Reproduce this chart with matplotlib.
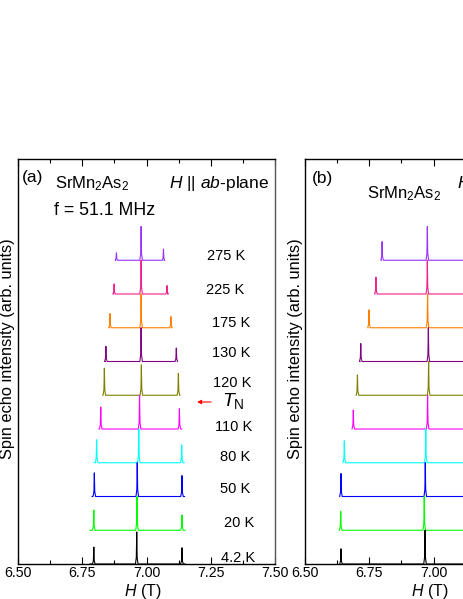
import matplotlib
matplotlib.use('Agg')
import matplotlib.pyplot as plt
import numpy as np

plt.rcParams['font.family'] = ['Liberation Sans', 'DejaVu Sans']
plt.rcParams['mathtext.fontset'] = 'custom'
plt.rcParams['mathtext.rm'] = 'Liberation Sans'
plt.rcParams['mathtext.it'] = 'Liberation Sans:italic'
plt.rcParams['mathtext.default'] = 'regular'

# temperatures, top to bottom
temps = ['275 K', '225 K', '175 K', '130 K', '120 K', '110 K', '80 K', '50 K', '20 K', '4.2 K']
offsets = [9, 8, 7, 6, 5, 4, 3, 2, 1, 0]
colors = ['#9933FF', '#F0208C', '#FF8000', '#800080', '#808000',
          '#FF00FF', '#00FFFF', '#0000FF', '#00FF00', '#000000']

# panel (a): H || ab-plane, peak fields (T) and heights (arb.)
left_a = [6.883, 6.874, 6.858, 6.842, 6.836, 6.822, 6.806, 6.797, 6.795, 6.795]
center_a = [6.979, 6.979, 6.979, 6.979, 6.980, 6.973, 6.970, 6.964, 6.963, 6.962]
right_a = [7.066, 7.080, 7.095, 7.116, 7.124, 7.128, 7.137, 7.138, 7.138, 7.138]
hl_a = [0.22, 0.30, 0.42, 0.45, 0.80, 0.65, 0.68, 0.70, 0.60, 0.50]
hc_a = [1.0, 1.0, 1.0, 1.0, 0.90, 1.0, 1.0, 1.0, 1.0, 0.95]
hr_a = [0.33, 0.25, 0.33, 0.40, 0.65, 0.60, 0.53, 0.62, 0.45, 0.48]
start_a = [6.880, 6.872, 6.856, 6.840, 6.830, 6.815, 6.797, 6.788, 6.780, 6.780]
end_a = [7.068, 7.082, 7.097, 7.120, 7.130, 7.137, 7.147, 7.148, 7.150, 7.150]

# panel (b): H || c-axis (right part is outside the picture)
left_b = [6.800, 6.776, 6.749, 6.717, 6.704, 6.688, 6.653, 6.640, 6.639, 6.640]
center_b = [6.976, 6.976, 6.977, 6.980, 6.981, 6.977, 6.970, 6.968, 6.964, 6.967]
hl_b = [0.55, 0.50, 0.53, 0.53, 0.60, 0.56, 0.65, 0.68, 0.56, 0.45]
hc_b = [1.0, 1.0, 1.0, 1.0, 1.0, 1.0, 1.0, 1.0, 1.0, 1.0]
start_b = [6.797, 6.772, 6.745, 6.714, 6.699, 6.683, 6.648, 6.635, 6.633, 6.635]
end_b = 7.30


def spectrum(start, end, peaks, heights, w=0.005):
    # narrow spike for each line, flat baseline elsewhere
    xs = [start]
    ys = [0.0]
    for p, h in zip(peaks, heights):
        xs += [p - w, p - w / 3, p, p + w / 3, p + w]
        ys += [0.0, 0.2 * h, h, 0.2 * h, 0.0]
    xs.append(end)
    ys.append(0.0)
    return np.array(xs), np.array(ys)


fig = plt.figure(figsize=(4.63, 5.99), dpi=100)
ax_a = fig.add_axes([18 / 463, 35 / 599, 257 / 463, 405 / 599])
ax_b = fig.add_axes([305 / 463, 35 / 599, 257 / 463, 405 / 599])

for i in range(len(temps)):
    x, y = spectrum(start_a[i], end_a[i], [left_a[i], center_a[i], right_a[i]],
                    [hl_a[i], hc_a[i], hr_a[i]])
    ax_a.plot(x, y + offsets[i], color=colors[i], lw=0.8)
    x, y = spectrum(start_b[i], end_b, [left_b[i], center_b[i]], [hl_b[i], hc_b[i]])
    ax_b.plot(x, y + offsets[i], color=colors[i], lw=0.8)

# temperature labels (left edge in T, vertical centre in offset units)
lab_x = [7.235, 7.232, 7.255, 7.255, 7.259, 7.267, 7.286, 7.286, 7.302, 7.290]
lab_y = [9.13, 8.12, 7.14, 6.25, 5.36, 4.06, 3.17, 2.22, 1.21, 0.18]
for t, lx, ly in zip(temps, lab_x, lab_y):
    ax_a.text(lx, ly, t, fontsize=10.5, ha='left', va='center')

ax_a.annotate('', xy=(7.186, 4.8), xytext=(7.262, 4.8),
              arrowprops=dict(arrowstyle='-|>', color='red', lw=0.8,
                              mutation_scale=6))
ax_a.text(7.292, 4.83, r'$\mathit{T}_{\mathrm{N}}$', fontsize=14, ha='left', va='center')

ax_a.text(0.015, 0.955, '(a)', transform=ax_a.transAxes, fontsize=12.5, va='center')
ax_a.text(0.145, 0.94, r'SrMn$_2$As$_2$', transform=ax_a.transAxes, fontsize=12, va='center')
ax_a.text(0.14, 0.873, 'f = 51.1 MHz', transform=ax_a.transAxes, fontsize=12.8, va='center')
ax_a.text(0.975, 0.94, r'$\mathit{H}$ || $\mathit{ab}$-plane', transform=ax_a.transAxes,
          fontsize=12.5, ha='right', va='center')

ax_b.text(0.025, 0.952, '(b)', transform=ax_b.transAxes, fontsize=12.5, va='center')
ax_b.text(0.24, 0.915, r'SrMn$_2$As$_2$', transform=ax_b.transAxes, fontsize=12, va='center')
ax_b.text(0.59, 0.94, r'$\mathit{H}$ || $\mathit{c}$-axis', transform=ax_b.transAxes,
          fontsize=12.5, ha='left', va='center')

for ax in (ax_a, ax_b):
    ax.set_xlim(6.5, 7.5)
    ax.set_ylim(0, 12)
    ax.set_yticks([])
    ax.set_xticks([6.5, 6.75, 7.0, 7.25, 7.5])
    ax.set_xticklabels(['6.50', '6.75', '7.00', '7.25', '7.50'])
    ax.set_xticks(np.arange(6.625, 7.5, 0.25), minor=True)
    ax.tick_params(axis='x', which='both', direction='in', top=True, labelsize=10.2, pad=1.5)
    ax.tick_params(axis='x', which='major', length=5, width=0.8)
    ax.tick_params(axis='x', which='minor', length=3, width=0.8)
    for s in ax.spines.values():
        s.set_linewidth(1.0)
    ax.set_xlabel(r'$\mathit{H}$ (T)', fontsize=11.5)
    ax.set_ylabel('Spin echo intensity (arb. units)', fontsize=11.8)

ax_a.spines['right'].set_color('#555555')
ax_a.xaxis.set_label_coords(0.485, -0.0435)
ax_b.xaxis.set_label_coords(0.485, -0.0435)
ax_a.yaxis.set_label_coords(-0.012, 0.531)
ax_b.yaxis.set_label_coords(-0.006, 0.531)

fig.savefig('out.png', dpi=100)
